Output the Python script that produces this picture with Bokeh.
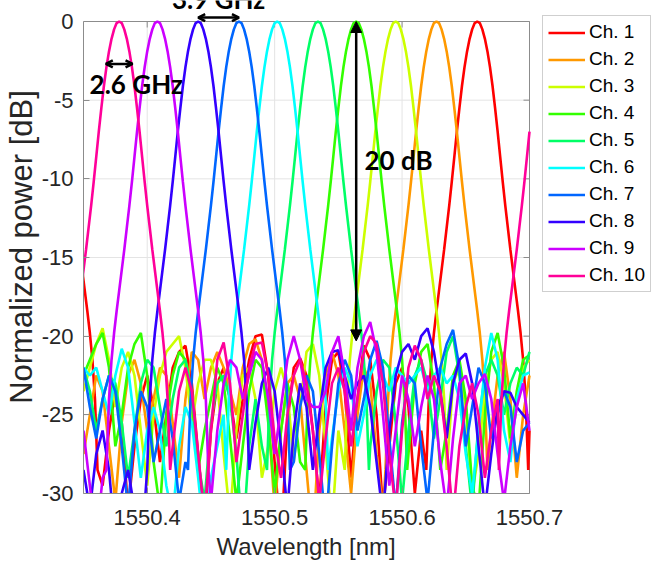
from bokeh.plotting import figure
from bokeh.models import (Range1d, FixedTicker, PrintfTickFormatter, Title,
                          Legend, LegendItem, Label, Arrow, NormalHead, OpenHead)
from bokeh.embed import file_html
from bokeh.resources import INLINE

# ---------------- data ----------------
CHANNELS = ["Ch. 1", "Ch. 2", "Ch. 3", "Ch. 4", "Ch. 5",
            "Ch. 6", "Ch. 7", "Ch. 8", "Ch. 9", "Ch. 10"]
COLORS = ["#FF0000", "#FF9900", "#CCFF00", "#33FF00", "#00FF66",
          "#00FFFF", "#0066FF", "#3300FF", "#CC00FF", "#FF0099"]
# peak wavelengths [nm]
PEAK_NM = [1550.659, 1550.627, 1550.595, 1550.564, 1550.534,
           1550.502, 1550.472, 1550.440, 1550.408, 1550.378]
FSR_NM = 0.338  # neighbouring orders (Ch. 1 at left edge, Ch. 10 at right edge)

# main-lobe shape: offset from peak [nm] -> power [dB]
LOBE_OFFSET_NM = [0.000, 0.002, 0.004, 0.006, 0.008, 0.010, 0.012, 0.014, 0.016, 0.018,
                  0.020, 0.022, 0.024, 0.026, 0.028, 0.030, 0.032, 0.034, 0.036, 0.038, 0.040]
LOBE_DB = [0.0, -0.1, -0.5, -1.1, -1.9, -2.9, -4.1, -5.5, -7.0, -8.6,
           -10.2, -11.7, -13.1, -14.5, -15.8, -17.1, -18.4, -19.8, -21.5, -24.0, -28.5]

# out-of-band floor, sampled every 0.005 nm from 1550.350 to 1550.700 (None = main lobe)
FLOOR_START_NM = 1550.350
FLOOR_STEP_NM = 0.005
FLOOR_CH1 = [None, None, -24.5, -29.5, -26.0, -23.5, -25.5, -31.0, -27.0, -24.0,
             -22.5, -24.5, -28.0, -25.0, -22.0, -21.0, -20.6, -23.0, -27.5, -32.0,
             -26.0, -23.0, -22.0, -24.0, -26.5, -24.0, -21.5, -20.0, -19.9, -22.5,
             -28.0, -33.0, -25.5, -22.0, -21.4, -22.5, -26.0, -30.5, -24.5, -21.5,
             -21.0, -23.5, -29.0, -24.0, -20.6, -21.5, -25.0, -31.0, -27.0, -23.0,
             -22.0, -24.5, -30.0, -26.0, -24.0, None, None, None, None, None,
             None, None, None, None, None, None, None, None, None, None,
             -26.0]
FLOOR_CH2 = [-27.5, -25.0, -22.5, -23.5, -27.0, -30.5, -25.5, -22.5, -21.5, -23.0,
             -26.0, -24.0, -22.0, -22.5, -25.5, -29.0, -24.0, -21.0, -21.5, -24.0,
             -22.0, -21.0, -22.0, -23.5, -25.0, -22.0, -20.5, -20.2, -21.5, -25.0,
             -31.0, -26.0, -23.0, -22.5, -24.0, -28.5, -33.0, -26.0, -22.5, -21.0,
             -22.5, -26.0, -30.0, -25.0, -22.0, -23.0, -27.5, -31.0, None, None,
             None, None, None, None, None, None, None, None, None, None,
             None, None, None, None, -26.0, -22.5, -21.0, -24.0, -29.0, -25.0,
             -22.5]
FLOOR_CH3 = [-23.5, -22.0, -20.5, -19.5, -21.5, -24.5, -22.0, -21.0, -22.5, -26.0,
             -29.5, -25.0, -22.5, -21.0, -20.5, -20.0, -22.0, -25.5, -23.0, -21.5,
             -21.5, -23.0, -27.5, -31.5, -26.0, -22.5, -22.0, -24.0, -29.0, -27.0,
             -23.5, -22.0, -23.5, -28.0, -24.5, -21.0, -20.5, -22.5, -27.0, -32.0,
             -26.0, -24.0, None, None, None, None, None, None, None, None,
             None, None, None, None, None, None, None, -26.5, -23.0, -22.0,
             -24.5, -30.0, -27.5, -23.5, -21.5, -21.0, -23.0, -27.0, -24.5, -22.0,
             -21.5]
FLOOR_CH4 = [-22.5, -21.5, -20.5, -19.8, -22.0, -27.0, -25.0, -22.0, -20.5, -19.8,
             -22.5, -28.0, -31.0, -25.0, -22.5, -21.0, -21.5, -24.0, -28.5, -26.0,
             -24.0, -22.0, -23.0, -26.5, -30.5, -27.0, -23.5, -21.5, -22.0, -25.5,
             -30.0, -26.0, -23.0, -24.5, -28.0, None, None, None, None, None,
             None, None, None, None, None, None, None, None, None, None,
             None, -27.5, -23.0, -21.0, -20.5, -23.0, -28.5, -26.0, -22.5, -21.5,
             -24.0, -29.5, -31.0, -25.0, -21.0, -19.8, -22.0, -26.5, -23.5, -21.5,
             -21.2]
FLOOR_CH5 = [-22.0, -23.5, -26.0, -24.0, -22.5, -23.0, -25.5, -29.0, -26.0, -23.0,
             -21.5, -22.0, -24.5, -27.0, -24.0, -22.0, -21.5, -23.5, -28.0, -30.5,
             -25.5, -23.0, -22.5, -24.0, -27.5, -33.0, -27.0, -24.0, -27.0, None,
             None, None, None, None, None, None, None, None, None, None,
             None, None, None, None, None, -27.0, -23.5, -21.5, -22.0, -25.5,
             -30.5, -26.0, -22.5, -21.5, -23.0, -26.5, -24.0, -21.0, -20.0, -22.5,
             -27.0, -31.0, -25.5, -22.5, -21.5, -22.5, -25.0, -23.0, -22.0, -22.5,
             -21.0]
FLOOR_CH6 = [-22.0, -22.5, -22.0, -23.5, -25.0, -22.5, -20.8, -22.0, -25.5, -29.0,
             -26.0, -24.5, -26.0, -29.5, -31.5, -27.0, -24.5, -25.5, -29.0, -33.0,
             -29.0, -27.0, -25.0, None, None, None, None, None, None, None,
             None, None, None, None, None, None, None, None, None, -26.5,
             -23.5, -22.0, -23.0, -27.0, -25.0, -22.5, -21.5, -22.5, -23.5, -22.0,
             -22.5, -23.0, -22.5, -22.0, -23.5, -22.5, -22.0, -23.0, -22.5, -24.0,
             -27.5, -30.0, -26.0, -22.0, -19.8, -21.5, -26.0, -28.0, -24.0, -22.5,
             -22.3]
FLOOR_CH7 = [-22.0, -24.5, -26.5, -24.0, -22.5, -23.5, -27.0, -31.0, -26.0, -23.5,
             -24.5, -28.0, -26.0, -24.0, -26.5, -30.5, -28.0, None, None, None,
             None, None, None, None, None, None, None, None, None, None,
             None, None, None, -28.0, -24.5, -22.5, -23.5, -27.5, -32.0, -27.0,
             -23.0, -21.5, -22.5, -26.0, -24.0, -21.5, -20.3, -22.0, -26.5, -31.0,
             -25.5, -22.5, -23.0, -27.0, -30.5, -26.0, -22.0, -20.5, -19.6, -22.0,
             -27.0, -24.5, -22.0, -23.0, -26.5, -25.0, -23.5, -24.5, -28.0, -26.0,
             -25.5]
FLOOR_CH8 = [-28.5, -31.0, -27.5, -26.0, -28.5, -33.0, -30.0, -28.5, -31.0, -34.0,
             -30.0, None, None, None, None, None, None, None, None, None,
             None, None, None, None, None, None, -30.0, -25.5, -23.0, -22.0,
             -23.5, -27.0, -31.0, -26.0, -23.0, -24.5, -28.5, -25.0, -22.0, -21.0,
             -20.9, -22.5, -24.0, -23.0, -22.5, -24.5, -28.0, -31.5, -26.0, -22.5,
             -21.0, -20.5, -21.5, -20.0, -19.5, -21.0, -23.5, -26.5, -23.0, -21.5,
             -21.1, -23.0, -27.0, -31.0, -27.5, -24.5, -23.5, -23.6, -24.5, -25.0,
             -25.5]
FLOOR_CH9 = [-26.0, -29.5, -33.0, -29.0, None, None, None, None, None, None,
             None, None, None, None, None, None, None, None, None, None,
             -30.5, -26.0, -23.0, -21.5, -22.0, -24.0, -22.5, -21.0, -21.5, -24.0,
             -27.5, -24.5, -21.5, -20.0, -21.5, -24.0, -24.5, -24.5, -23.5, -21.0,
             -20.0, -22.5, -26.0, -22.0, -20.0, -19.1, -21.0, -25.0, -29.5, -26.0,
             -22.5, -24.0, -27.0, -24.5, -22.5, -24.0, -28.0, -31.0, -26.5, -23.0,
             -22.5, -24.0, -23.0, -22.4, -24.0, -27.5, -30.5, -27.0, -24.5, -23.0,
             -26.0]
FLOOR_CH10 = [None, None, None, None, None, None, None, None, None, None,
              None, None, None, None, -27.0, -23.5, -22.0, -23.5, -27.5, -31.5,
              -26.0, -21.5, -20.4, -23.0, -28.0, -25.0, -22.0, -20.5, -20.4, -22.5,
              -26.5, -29.0, -25.0, -22.5, -21.5, -23.0, -26.0, -30.5, -26.5, -23.0,
              -22.0, -23.5, -27.0, -24.0, -21.0, -20.0, -20.5, -23.0, -27.5, -31.0,
              -26.0, -22.0, -20.6, -21.5, -24.0, -22.5, -23.5, -27.0, -31.5, -27.0,
              -24.5, -23.0, -25.0, -29.0, -26.0, -24.0, None, None, None, None,
              None]
FLOORS = [FLOOR_CH1, FLOOR_CH2, FLOOR_CH3, FLOOR_CH4, FLOOR_CH5,
          FLOOR_CH6, FLOOR_CH7, FLOOR_CH8, FLOOR_CH9, FLOOR_CH10]

X_RANGE = (1550.35, 1550.70)
Y_RANGE = (-30, 0)
X_TICKS = [1550.4, 1550.5, 1550.6, 1550.7]
Y_TICKS = [-30, -25, -20, -15, -10, -5, 0]
X_LABEL = "Wavelength [nm]"
Y_LABEL = "Normalized power [dB]"

# annotations (values in data units)
BW3DB_LEVEL_DB = -2.7
BW3DB_HALF_NM = 0.0105
SPACING_LEVEL_DB = 0.25
ISOLATION_DB = -20.3

# ---------------- layout / style ----------------
FONT = "Liberation Sans"
ANN_FONT = "Lato"
AX_COLOR = "#8C8C8C"
GRID_COLOR = "#E4E4E4"
TXT_COLOR = "#262626"
BOX_W, BOX_H = 446, 472        # axes box in pixels
TOP_GAP, RIGHT_GAP = 21, 126   # strips above / right of the box (annotations, legend)
TICK_PX = 6

db_per_px = (Y_RANGE[1] - Y_RANGE[0]) / BOX_H
nm_per_px = (X_RANGE[1] - X_RANGE[0]) / BOX_W
y_top = Y_RANGE[1] + TOP_GAP * db_per_px
x_right = X_RANGE[1] + RIGHT_GAP * nm_per_px


def channel_curve(center, floor):
    lobe_max = LOBE_OFFSET_NM[-1]
    orders = [center + k * FSR_NM for k in (-1, 0, 1)]
    orders = [c for c in orders if c + lobe_max > X_RANGE[0] and c - lobe_max < X_RANGE[1]]
    pts = []
    for i, v in enumerate(floor):
        if v is None:
            continue
        wl = FLOOR_START_NM + i * FLOOR_STEP_NM
        if any(abs(wl - c) < lobe_max + 0.0005 for c in orders):
            continue
        pts.append((wl, v))
    for c in orders:
        for off, db in zip(LOBE_OFFSET_NM, LOBE_DB):
            pts.append((c - off, db))
            if off > 0:
                pts.append((c + off, db))
    pts = sorted(q for q in pts if q[0] <= X_RANGE[1] + 1e-9)
    return [q[0] for q in pts], [q[1] for q in pts]


p = figure(frame_width=BOX_W + RIGHT_GAP, frame_height=BOX_H + TOP_GAP,
           x_range=Range1d(X_RANGE[0], x_right), y_range=Range1d(Y_RANGE[0], y_top),
           output_backend="svg", toolbar_location=None,
           min_border_left=82, min_border_right=0,
           min_border_top=0, min_border_bottom=72,
           background_fill_color="white", border_fill_color="white",
           outline_line_color=None)

# grid lines, box edges (top, right) and inner ticks on top and right
n_x, n_y = len(X_TICKS) - 1, len(Y_TICKS) - 2
p.segment(x0=X_TICKS[:-1], y0=[Y_RANGE[0]] * n_x, x1=X_TICKS[:-1], y1=[Y_RANGE[1]] * n_x,
          line_color=GRID_COLOR, line_width=1, level="underlay")
p.segment(x0=[X_RANGE[0]] * n_y, y0=Y_TICKS[1:-1], x1=[X_RANGE[1]] * n_y, y1=Y_TICKS[1:-1],
          line_color=GRID_COLOR, line_width=1, level="underlay")
p.segment(x0=[X_RANGE[0], X_RANGE[1]], y0=[Y_RANGE[1], Y_RANGE[0]],
          x1=[X_RANGE[1], X_RANGE[1]], y1=[Y_RANGE[1], Y_RANGE[1]],
          line_color=AX_COLOR, line_width=1, level="underlay")
p.segment(x0=X_TICKS[:-1], y0=[Y_RANGE[1]] * n_x, x1=X_TICKS[:-1],
          y1=[Y_RANGE[1] - TICK_PX * db_per_px] * n_x,
          line_color=AX_COLOR, line_width=1, level="underlay")
p.segment(x0=[X_RANGE[1] - TICK_PX * nm_per_px] * len(Y_TICKS), y0=Y_TICKS,
          x1=[X_RANGE[1]] * len(Y_TICKS), y1=Y_TICKS,
          line_color=AX_COLOR, line_width=1, level="underlay")

renderers = []
for name, col, c, fl in zip(CHANNELS, COLORS, PEAK_NM, FLOORS):
    xs, ys = channel_curve(c, fl)
    r = p.line(xs, ys, line_color=col, line_width=2.6)
    renderers.append(r)

# axes
for ax in (p.xaxis[0], p.yaxis[0]):
    ax.axis_line_color = AX_COLOR
    ax.major_tick_line_color = AX_COLOR
    ax.major_tick_in = TICK_PX
    ax.major_tick_out = 0
    ax.minor_tick_line_color = None
    ax.major_label_text_font = FONT
    ax.major_label_text_font_size = "22px"
    ax.major_label_text_color = TXT_COLOR
    ax.axis_label_text_font = FONT
    ax.axis_label_text_font_style = "normal"
    ax.axis_label_text_color = TXT_COLOR

p.xaxis.ticker = FixedTicker(ticks=X_TICKS)
p.xaxis.formatter = PrintfTickFormatter(format="%.1f")
p.xaxis.bounds = X_RANGE
p.xaxis.major_label_standoff = 16

# x-axis title centred under the axes box (not under the wider frame)
x_title = Title(text=X_LABEL, align="left", offset=133, standoff=6,
                text_font=FONT, text_font_size="24px", text_font_style="normal",
                text_color=TXT_COLOR)
p.add_layout(x_title, "below")

p.yaxis.ticker = FixedTicker(ticks=Y_TICKS)
p.yaxis.formatter = PrintfTickFormatter(format="%d")
p.yaxis.bounds = Y_RANGE
p.yaxis.major_label_standoff = 10
p.yaxis.axis_label = Y_LABEL
p.yaxis.axis_label_text_font_size = "31px"
p.yaxis.axis_label_standoff = 0

p.xgrid.visible = False
p.ygrid.visible = False

# legend, right of the axes box
items = [LegendItem(label=n, renderers=[r]) for n, r in zip(CHANNELS, renderers)]
legend = Legend(items=items, location=(BOX_W + 13, 201),
                label_text_font=FONT, label_text_font_size="19px", label_text_color="#000000",
                glyph_width=37, glyph_height=21, label_height=21, spacing=5,
                padding=5, label_standoff=4, margin=0,
                border_line_color="#A0A0A0", border_line_width=1,
                background_fill_color="white", background_fill_alpha=1.0)
p.add_layout(legend)

# annotations
c10, c8, c7, c4 = PEAK_NM[9], PEAK_NM[7], PEAK_NM[6], PEAK_NM[3]
p.add_layout(Arrow(start=OpenHead(size=7, line_width=2.5, line_color="black"),
                   end=OpenHead(size=7, line_width=2.5, line_color="black"),
                   x_start=c10 - BW3DB_HALF_NM, y_start=BW3DB_LEVEL_DB,
                   x_end=c10 + BW3DB_HALF_NM, y_end=BW3DB_LEVEL_DB,
                   line_width=2.5, line_color="black"))
p.add_layout(Arrow(start=OpenHead(size=7, line_width=2.5, line_color="black"),
                   end=OpenHead(size=7, line_width=2.5, line_color="black"),
                   x_start=c8, y_start=SPACING_LEVEL_DB,
                   x_end=c7, y_end=SPACING_LEVEL_DB,
                   line_width=2.5, line_color="black"))
p.add_layout(Arrow(start=NormalHead(size=11, fill_color="black", line_color="black", line_width=1),
                   end=NormalHead(size=11, fill_color="black", line_color="black", line_width=1),
                   x_start=c4, y_start=0, x_end=c4, y_end=ISOLATION_DB,
                   line_width=2.5, line_color="black"))

lab_kw = dict(text_font=ANN_FONT, text_font_style="bold", text_font_size="26px",
              text_color="black")
p.add_layout(Label(x=c10 - 0.0232, y=-3.95, text="2.6 GHz", text_align="left",
                   text_baseline="middle", **lab_kw))
p.add_layout(Label(x=c4 + 0.0065, y=-8.8, text="20 dB", text_align="left",
                   text_baseline="middle", **lab_kw))
p.add_layout(Label(x=(c8 + c7) / 2, y=1.40, text="3.9 GHz", text_align="center",
                   text_baseline="alphabetic", **lab_kw))

open("out.html", "w").write(file_html(p, INLINE))
